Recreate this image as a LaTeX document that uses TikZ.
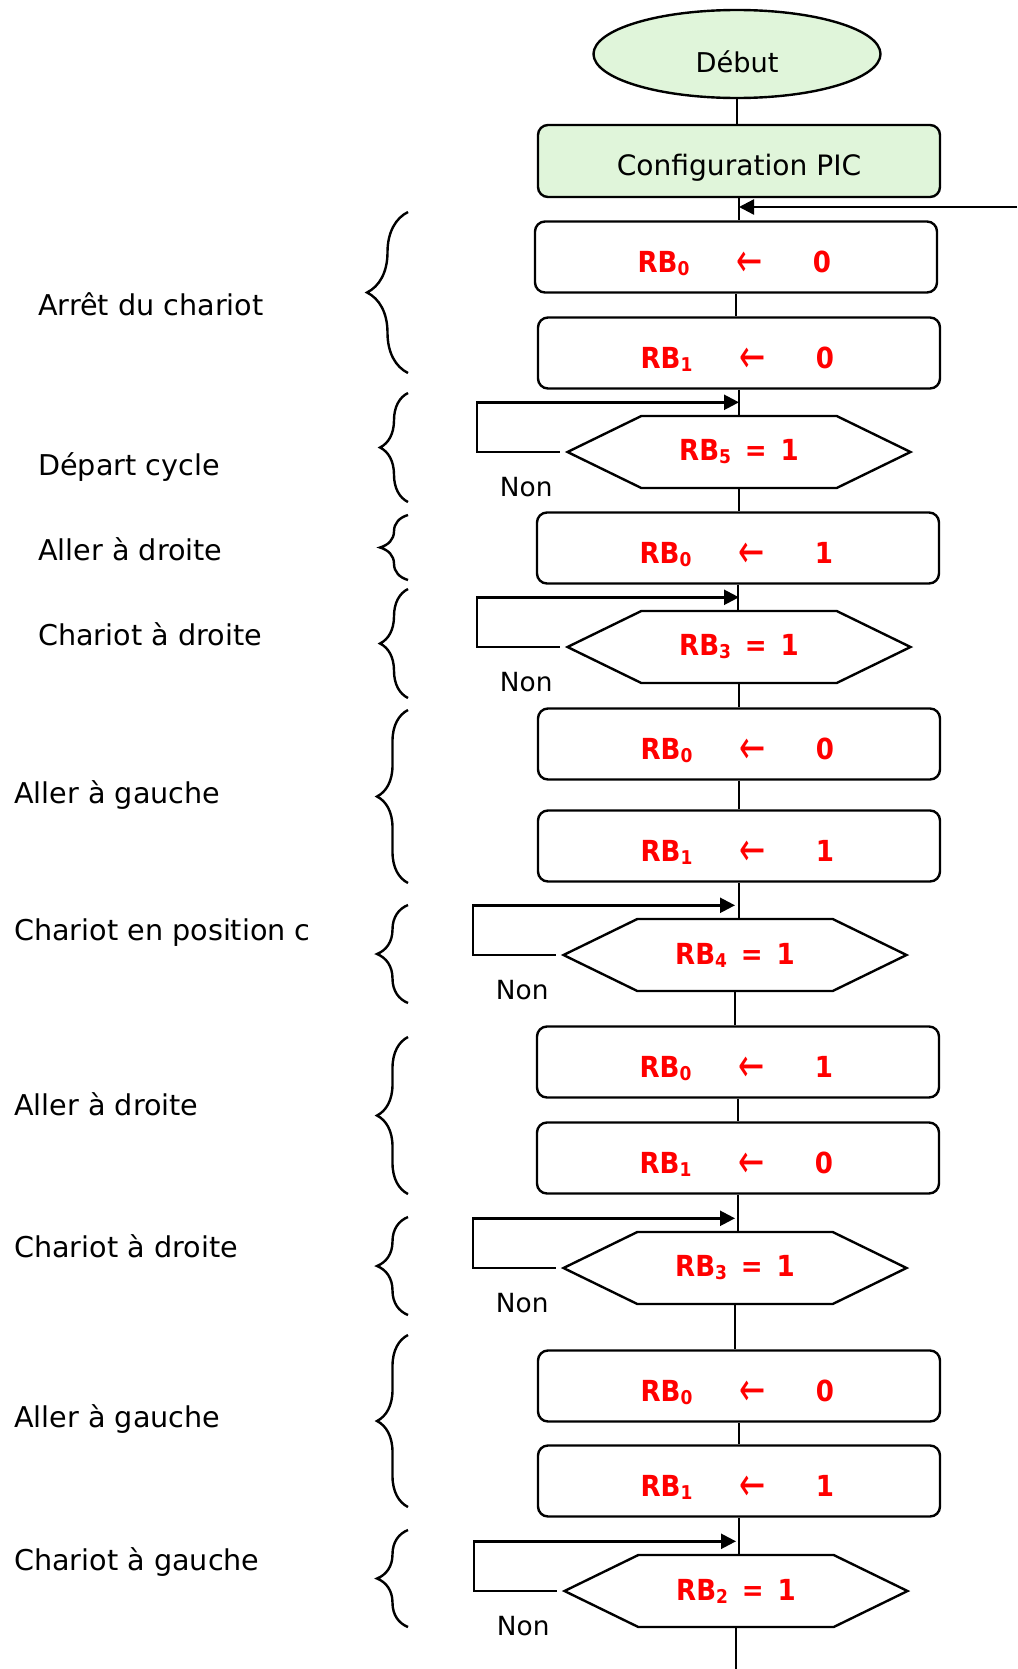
\documentclass[tikz,border=0pt]{standalone}
\usepackage{fontspec}
\setmainfont{DejaVu Sans}
\newfontfamily\rbfont{DejaVu Sans Condensed}
\usetikzlibrary{shapes.geometric, shapes.symbols}
\usetikzlibrary{arrows.meta}
\usetikzlibrary{decorations.pathreplacing}

\definecolor{vertpale}{HTML}{E0F5DA}

% Index of a port bit
\newcommand{\indice}[1]{\raisebox{-0.6mm}{\fontsize{10.8}{12}\selectfont #1}}
% Assignment arrow
\newcommand{\recoit}{\raisebox{-0.9mm}{\scalebox{1.2}[1.6]{\mdseries ←}}}
% Assignment RBi <- v, in three columns
\newcommand{\affect}[2]{\makebox[24.4mm]{RB\indice{#1}}\makebox[10mm]{\recoit}\makebox[19mm]{#2}}
% Test RBi = v
\newcommand{\testbit}[2]{RB\indice{#1} \,=\, #2}

\begin{document}
\begin{tikzpicture}[x=0.2mm, y=-0.2mm, line width=0.48mm,
    debut/.style={ellipse, draw, fill=vertpale, minimum width=57.4mm, minimum height=17.6mm,
      inner sep=0pt, font=\fontsize{15.5}{18}\selectfont, text height=7.2mm, text depth=0pt},
    config/.style={rectangle, rounded corners=2mm, draw, fill=vertpale, minimum width=80.4mm,
      minimum height=14.4mm, inner sep=0pt, font=\fontsize{16}{19}\selectfont, text height=5.6mm, text depth=0pt},
    action/.style={rectangle, rounded corners=2mm, draw, minimum width=80.4mm, minimum height=14.2mm,
      inner sep=0pt, text=red, font=\rbfont\bfseries\fontsize{16.5}{20}\selectfont, text height=6mm, text depth=0pt},
    essai/.style={signal, signal to=west and east, signal pointer angle=52, draw, minimum width=68.6mm,
      minimum height=14.4mm, inner sep=0pt, text=red, font=\rbfont\bfseries\fontsize{16.5}{20}\selectfont},
    etiquette/.style={anchor=base west, inner sep=0pt, font=\fontsize{16.3}{19}\selectfont},
    non/.style={anchor=base west, inner sep=0pt, font=\fontsize{15}{18}\selectfont},
    retour/.style={-{Triangle[length=3mm, width=3mm]}}]

        \useasboundingbox (0,0) rectangle (1017,1669);

        % Start and set-up
        \node[debut] (deb) at (737,54) {Début};
        \node[config] (cfg) at (739,161) {Configuration PIC};

        % Steps of the cycle
        \node[action] (a1) at (736,257) {\affect{0}{0}};
        \node[action] (a2) at (739,353) {\affect{1}{0}};
        \node[essai] (t1) at (739,452) {\testbit{5}{1}};
        \node[action] (a3) at (738,548) {\affect{0}{1}};
        \node[essai] (t2) at (739,647) {\testbit{3}{1}};
        \node[action] (a4) at (739,744) {\affect{0}{0}};
        \node[action] (a5) at (739,846) {\affect{1}{1}};
        \node[essai] (t3) at (735,955) {\testbit{4}{1}};
        \node[action] (a6) at (738,1062) {\affect{0}{1}};
        \node[action] (a7) at (738,1158) {\affect{1}{0}};
        \node[essai] (t4) at (735,1268) {\testbit{3}{1}};
        \node[action] (a8) at (739,1386) {\affect{0}{0}};
        \node[action] (a9) at (739,1481) {\affect{1}{1}};
        \node[essai] (t5) at (736,1591) {\testbit{2}{1}};

        % Main vertical line
        \foreach \u/\v in {deb/cfg, cfg/a1, a1/a2, a2/t1, t1/a3, a3/t2, t2/a4, a4/a5,
                           a5/t3, t3/a6, a6/a7, a7/t4, t4/a8, a8/a9, a9/t5} {
          \draw (\u.south) -- (\u.south |- \v.north);
        }

        % Loop back to the top and exit at the bottom
        \coordinate (boucle) at (1017,207);
        \draw[retour] (boucle) -- (cfg.south |- boucle);
        \coordinate (fin) at (736,1669);
        \draw (t5.south) -- (t5.south |- fin);

        % Wait loops on each test
        \foreach \i in {1,...,5} {
          \draw[retour] ([xshift=-1mm]t\i.west) -- ++(-83,0) |- ([yshift=2.5mm]t\i.north);
          \node[non] (non\i) at ([xshift=-13.2mm, yshift=-8.8mm]t\i.west) {Non};
        }

        % Braces and comments on the left
        \foreach \yh/\yb/\amp/\xl/\yl/\txt [count=\k] in {
            212/373/8.2/37/315/Arrêt du chariot,
            393/502/5.6/37/475/Départ cycle,
            515/580/5.6/37/560/Aller à droite,
            589/698/5.6/37/645/Chariot à droite,
            710/883/6.2/13/803/Aller à gauche,
            905/1003/6.2/13/940/Chariot en position c,
            1037/1194/6.2/13/1115/Aller à droite,
            1217/1315/6.2/13/1257/Chariot à droite,
            1335/1507/6.2/13/1427/Aller à gauche,
            1530/1627/6.2/13/1570/Chariot à gauche} {
          \draw[decorate, decoration={brace, amplitude=\amp mm}] (408,\yb) -- (408,\yh);
          \node[etiquette] (lab\k) at (\xl,\yl) {\txt};
        }

      \end{tikzpicture}
\end{document}
